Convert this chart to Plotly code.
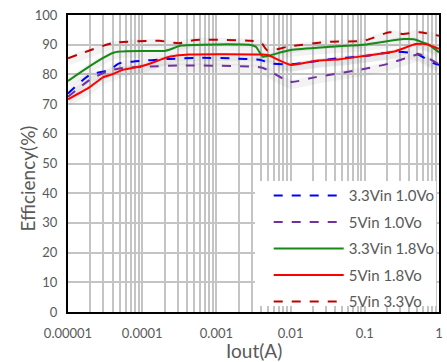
import plotly.graph_objects as go

# 3.3Vin 1.0Vo
x_a = [1e-5, 1.96e-5, 3.6e-5, 4.9e-5, 7.4e-5, 2.3e-4, 5.75e-4, 1.58e-3, 4e-3, 5.4e-3, 0.01, 0.034, 0.097, 0.27, 0.49, 0.86, 1.0]
y_a = [73.6, 79.8, 81.5, 83.7, 84.3, 85.2, 85.6, 85.4, 84.8, 83.7, 83.4, 85.1, 86.2, 87.6, 87.0, 83.7, 83.2]
# 5Vin 1.0Vo
x_b = [1e-5, 1.96e-5, 3.3e-5, 4.9e-5, 1.12e-4, 3.8e-4, 3.9e-3, 4.9e-3, 0.01, 0.021, 0.097, 0.215, 0.45, 0.54, 1.0]
y_b = [72.5, 78.1, 80.9, 82.0, 82.6, 83.0, 82.4, 81.5, 77.5, 79.0, 81.8, 83.7, 86.3, 86.8, 83.4]
# 3.3Vin 1.8Vo
x_c = [1e-5, 4.2e-5, 2.07e-4, 3.4e-4, 2.9e-3, 3.4e-3, 4.2e-3, 4.9e-3, 0.01, 0.034, 0.105, 0.33, 0.45, 0.74, 1.0]
y_c = [77.8, 87.4, 88.0, 89.7, 89.9, 89.3, 86.0, 86.2, 88.2, 89.3, 90.1, 91.9, 91.8, 89.9, 87.4]
# 5Vin 1.8Vo
x_d = [1e-5, 1.96e-5, 2.96e-5, 4e-5, 5.4e-5, 1e-4, 2.4e-4, 4.2e-4, 4e-3, 4.9e-3, 0.01, 0.021, 0.046, 0.097, 0.24, 0.49, 0.67, 1.0]
y_d = [71.6, 75.7, 79.0, 80.1, 81.5, 82.8, 86.0, 86.7, 86.7, 86.5, 83.2, 84.5, 85.1, 86.2, 87.6, 90.2, 90.2, 88.6]
# 5Vin 3.3Vo
x_e = [1e-5, 4e-5, 1.7e-4, 3.1e-4, 5.2e-4, 2.9e-3, 4e-3, 4.9e-3, 9.1e-3, 0.034, 0.097, 0.215, 0.33, 0.54, 1.0]
y_e = [85.4, 90.5, 91.3, 90.5, 91.6, 91.3, 90.7, 88.0, 89.3, 91.0, 91.3, 94.2, 93.6, 94.2, 93.0]

names = ["3.3Vin 1.0Vo", "5Vin 1.0Vo", "3.3Vin 1.8Vo", "5Vin 1.8Vo", "5Vin 3.3Vo"]
colors = ["#0000FF", "#7030A0", "#168A16", "#FF0000", "#C00000"]
dashes = ["dash", "dash", "solid", "solid", "dash"]
xs = [x_a, x_b, x_c, x_d, x_e]
ys = [y_a, y_b, y_c, y_d, y_e]

x_ticks = [1e-5, 1e-4, 1e-3, 1e-2, 1e-1, 1]
x_labels = ["0.00001", "0.0001", "0.001", "0.01", "0.1", "1"]

fig = go.Figure()
# soft shadows
for x, y, c in zip(xs, ys, colors):
    fig.add_trace(go.Scatter(x=x, y=[v - 0.8 for v in y], mode="lines", showlegend=False,
                             hoverinfo="skip", line=dict(color="rgba(120,120,120,0.09)", width=9, shape="spline", smoothing=0.6)))
for i, (x, y, n, c, d) in enumerate(zip(xs, ys, names, colors, dashes)):
    fig.add_trace(go.Scatter(x=x, y=y, name=n, mode="lines", legendgroup=str(i),
                             line=dict(color=c, width=2, dash=d, shape="spline", smoothing=0.6)))

# white backdrop behind legend
fig.add_shape(type="rect", xref="x domain", yref="y domain", x0=0.504, x1=0.992, y0=0.02, y1=0.441,
              fillcolor="white", line=dict(width=0), layer="above")

fig.add_annotation(text="Efficiency(%)", xref="paper", yref="paper", x=-0.1093, y=0.451,
                   textangle=-90, showarrow=False, font=dict(size=19, color="#595959"),
                   xanchor="center", yanchor="middle")
fig.add_annotation(text="Iout(A)", xref="paper", yref="paper", x=0.5, y=(312 - 350) / 297,
                   showarrow=False, font=dict(size=19, color="#595959"),
                   xanchor="center", yanchor="middle")

grid = "#C4C4C4"
fig.update_layout(
    width=447, height=362,
    margin=dict(l=68, r=4, t=15, b=50),
    paper_bgcolor="white", plot_bgcolor="white",
    font=dict(family="Lato", size=13, color="#595959"),
    legend=dict(x=0.541, y=0.447, xanchor="left", yanchor="top", bgcolor="rgba(0,0,0,0)",
                font=dict(size=15, color="#595959"), itemwidth=70, tracegroupgap=4),
    xaxis=dict(type="log", range=[-5, 0], tickvals=x_ticks, ticktext=x_labels,
               showgrid=True, gridcolor=grid, gridwidth=2,
               minor=dict(showgrid=True, gridcolor=grid, gridwidth=2, dtick="D1"),
               showline=True, linecolor="black", linewidth=2, mirror=True, ticks="",
               ticklabelstandoff=8),
    yaxis=dict(range=[0, 100], dtick=10, showgrid=True, gridcolor=grid, gridwidth=2,
               showline=True, linecolor="black", linewidth=2, mirror=True, ticks="",
               zeroline=False, ticklabelstandoff=6),
)
fig.write_html("out.html")
